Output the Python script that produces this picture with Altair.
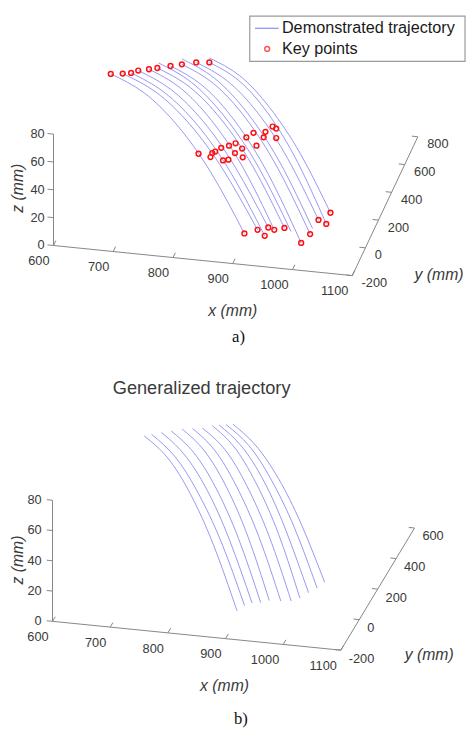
import altair as alt
import pandas as pd

# ---------------- data (mm) ----------------
x_ticks = [600, 700, 800, 900, 1000, 1100]
z_ticks = [0, 20, 40, 60, 80]
y_ticks_a = [-200, 0, 200, 400, 600, 800]
y_ticks_b = [-200, 0, 200, 400, 600]

# y value of the five way-points along every trajectory
traj_y = [400, 300, 180, 60, -50]

# a) demonstrated trajectories
traj_a_x = [
    [630, 697, 766, 835, 903],
    [650, 717, 787, 856, 925],
    [664, 730, 800, 869, 937],
    [676, 741, 809, 876, 943],
    [694, 757, 823, 889, 953],
    [708, 772, 839, 905, 970],
    [710, 776, 845, 914, 981],
    [730, 795, 863, 931, 998],
    [749, 813, 880, 947, 1013],
    [749, 815, 883, 951, 1017],
    [773, 835, 900, 964, 1027],
    [795, 855, 917, 979, 1040],
    [795, 857, 920, 984, 1047],
]
traj_a_z = [
    [64.7, 63.9, 55.3, 36.6, 6.8],
    [65.8, 65.2, 56.9, 39.1, 10.4],
    [66.9, 65.9, 56.8, 37.4, 6.6],
    [69.1, 68.5, 60.2, 42.0, 12.8],
    [70.8, 70.2, 61.4, 42.2, 11.6],
    [72.3, 71.7, 63.0, 44.1, 13.7],
    [76.0, 74.9, 65.0, 44.3, 11.6],
    [74.7, 73.2, 62.2, 39.5, 4.1],
    [76.7, 75.6, 65.6, 44.4, 11.1],
    [80.6, 79.4, 69.4, 48.4, 15.3],
    [79.1, 78.8, 70.4, 51.8, 21.9],
    [80.1, 79.7, 70.8, 51.1, 19.6],
    [83.3, 83.1, 75.0, 57.0, 27.9],
]

# a) key points
key_x = [630, 650, 664, 676, 694, 708, 730, 749, 773, 795,
         801, 821, 824, 829, 839, 842, 851, 852, 863, 862,
         874, 875, 881, 893, 898, 910, 913, 925, 931, 931,
         903, 925, 937, 943, 953, 970, 998, 1013, 1027, 1040, 1047]
key_y = [400, 400, 400, 400, 400, 400, 400, 400, 400, 400,
         180, 180, 180, 180, 180, 180, 180, 180, 180, 180,
         180, 180, 180, 180, 180, 180, 180, 180, 180, 180,
         -50, -50, -50, -50, -50, -50, -50, -50, -50, -50, -50]
key_z = [64.7, 65.8, 66.9, 69.1, 70.8, 72.3, 74.7, 76.7, 79.1, 80.1,
         36.7, 35.2, 38.2, 39.5, 42.6, 33.7, 34.6, 44.7, 46.9, 39.8,
         43.6, 37.3, 51.9, 55.7, 46.7, 53.2, 57.3, 61.6, 60.4, 53.6,
         6.8, 10.4, 6.6, 12.8, 11.6, 13.7, 4.1, 11.1, 21.9, 19.6, 27.9]

# b) generalized trajectories
traj_b_x = [
    [663, 720, 779, 838, 896],
    [676, 732, 791, 851, 909],
    [693, 748, 807, 865, 922],
    [710, 765, 823, 881, 937],
    [729, 783, 840, 897, 952],
    [747, 801, 858, 916, 972],
    [764, 819, 876, 934, 990],
    [781, 835, 892, 950, 1005],
    [793, 848, 906, 963, 1020],
    [805, 861, 919, 978, 1035],
    [817, 872, 931, 990, 1048],
]
traj_b_z = [
    [64.4, 62.0, 52.2, 32.9, 3.1],
    [65.8, 63.6, 54.3, 35.8, 7.1],
    [67.8, 65.7, 56.5, 38.0, 9.3],
    [69.4, 67.3, 58.0, 39.2, 10.1],
    [71.4, 69.4, 60.2, 41.4, 12.0],
    [72.4, 70.4, 60.9, 42.0, 12.4],
    [73.4, 71.4, 61.9, 42.8, 13.1],
    [75.7, 73.7, 64.3, 45.2, 15.7],
    [76.5, 74.6, 65.8, 47.9, 19.8],
    [77.3, 75.4, 67.1, 50.0, 23.3],
    [78.0, 76.3, 68.7, 52.7, 27.7],
]

legend_labels = ["Demonstrated trajectory", "Key points"]
title_b = "Generalized trajectory"
axis_titles = ["x (mm)", "y (mm)", "z (mm)"]
captions = ["a)", "b)"]

# ---------------- layout / projection ----------------
W, H = 466, 727
XS = alt.Scale(domain=[8, 8 + W], nice=False, zero=False)
YS = alt.Scale(domain=[8 + H, 8], nice=False, zero=False)

PROJ = {
    "a": dict(ox=54.3, oy=243.3, ax=0.608, ay=0.0613, bx=0.0667, by=-0.1413, cz=-1.4167,
              ymax=800, yt=y_ticks_a, Lx=35, Lr=10, xdy=16, zdx=-9, ydx=9.5, ydy=7.8),
    "b": dict(ox=53.3, oy=625.7, ax=0.5867, ay=0.0587, bx=0.09375, by=-0.1554, cz=-1.54,
              ymax=600, yt=y_ticks_b, Lx=30, Lr=10, xdy=16, zdx=-11, ydx=8, ydy=8.7),
}
X0, Y0, X1 = 600, -200, 1100

LINE_C = "#6f6fee"
AX_C = "#858585"
TXT_C = "#3a3a3a"
FONT = "Liberation Sans"


def calc(p, suf=""):
    c = PROJ[p]
    return {
        "px" + suf: f"{c['ox']}+{c['ax']}*(datum.x{suf}-{X0})+{c['bx']}*(datum.y{suf}-({Y0}))",
        "py" + suf: f"{c['oy']}+{c['ay']}*(datum.x{suf}-{X0})+({c['by']})*(datum.y{suf}-({Y0}))+({c['cz']})*datum.z{suf}",
    }


def ex():
    return alt.X("px:Q", scale=XS, axis=None)


def ey():
    return alt.Y("py:Q", scale=YS, axis=None)


def panel(p, trx, trz):
    c = PROJ[p]
    ymax = c["ymax"]
    segs = [
        dict(x=X0, y=Y0, z=0, x2=X1, y2=Y0, z2=0),
        dict(x=X1, y=Y0, z=0, x2=X1, y2=ymax, z2=0),
        dict(x=X0, y=Y0, z=0, x2=X0, y2=Y0, z2=z_ticks[-1]),
    ]
    segs += [dict(x=t, y=Y0, z=0, x2=t, y2=Y0 + c["Lx"], z2=0) for t in x_ticks]
    segs += [dict(x=X1, y=t, z=0, x2=X1 - c["Lr"], y2=t, z2=0) for t in c["yt"]]
    segs += [dict(x=X0, y=Y0, z=t, x2=X0 - c["Lr"], y2=Y0, z2=t) for t in z_ticks]
    axes = (alt.Chart(pd.DataFrame(segs)).mark_rule(color=AX_C, strokeWidth=1)
            .transform_calculate(**calc(p)).transform_calculate(**calc(p, "2"))
            .encode(x=ex(), y=ey(), x2="px2:Q", y2="py2:Q"))

    xl = pd.DataFrame([dict(x=t, y=Y0, z=0, t=str(t)) for t in x_ticks])
    yl = pd.DataFrame([dict(x=X1, y=t, z=0, t=str(t)) for t in c["yt"]])
    zl = pd.DataFrame([dict(x=X0, y=Y0, z=t, t=str(t)) for t in z_ticks])
    tk = dict(fontSize=13, font=FONT, color=TXT_C, baseline="middle")
    xlab = (alt.Chart(xl).mark_text(align="right", dx=-4, dy=c["xdy"], **tk)
            .transform_calculate(**calc(p)).encode(x=ex(), y=ey(), text="t:N"))
    ylab = (alt.Chart(yl).mark_text(align="left", dx=c["ydx"], dy=c["ydy"], **tk)
            .transform_calculate(**calc(p)).encode(x=ex(), y=ey(), text="t:N"))
    zlab = (alt.Chart(zl).mark_text(align="right", dx=c["zdx"], **tk)
            .transform_calculate(**calc(p)).encode(x=ex(), y=ey(), text="t:N"))

    rows = []
    for i, (xs, zs) in enumerate(zip(trx, trz)):
        for s, (xv, yv, zv) in enumerate(zip(xs, traj_y, zs)):
            rows.append(dict(traj=i, step=s, x=xv, y=yv, z=zv))
    lines = (alt.Chart(pd.DataFrame(rows))
             .mark_line(color=LINE_C, strokeWidth=0.9, opacity=0.8, interpolate="natural")
             .transform_calculate(**calc(p))
             .encode(x=ex(), y=ey(), detail="traj:N", order="step:Q"))
    return [axes, lines, xlab, ylab, zlab]


layers = []
layers += panel("a", traj_a_x, traj_a_z)
layers += panel("b", traj_b_x, traj_b_z)

keys = pd.DataFrame(dict(x=key_x, y=key_y, z=key_z))
layers.append(
    alt.Chart(keys).mark_point(shape="circle", filled=False, color="#ff1010", size=24,
                               strokeWidth=1.5, opacity=1)
    .transform_calculate(**calc("a")).encode(x=ex(), y=ey())
)


def txt(s, x, y, **kw):
    return alt.Chart(pd.DataFrame({"t": [s]})).mark_text(**kw).encode(
        x=alt.value(x - 8), y=alt.value(y - 8), text="t:N")


ital = dict(fontSize=16, font=FONT, fontStyle="italic", color=TXT_C, baseline="middle")
# axis titles panel a
layers.append(txt(axis_titles[0], 236.7, 310, align="center", **ital))
layers.append(txt(axis_titles[1], 421.7, 273.5, align="left", **ital))
layers.append(txt(axis_titles[2], 18.3, 185, align="center", angle=270, **ital))
# axis titles panel b
layers.append(txt(axis_titles[0], 228.3, 691.7, align="center", **ital))
layers.append(txt(axis_titles[1], 411.7, 660, align="left", **ital))
layers.append(txt(axis_titles[2], 18.3, 563.3, align="center", angle=270, **ital))
# captions and title
cap = dict(fontSize=17, font="Liberation Serif", color="#111111", baseline="middle", align="center")
layers.append(txt(captions[0], 242.5, 336.5, **cap))
layers.append(txt(captions[1], 245, 725, **cap))
layers.append(txt(title_b, 205, 388.5, align="center", baseline="middle", fontSize=18.5,
                  font=FONT, color=TXT_C))

# legend box
layers.append(alt.Chart(pd.DataFrame({"k": [0]})).mark_rect(
    fill="white", stroke="#9a9a9a", strokeWidth=1.2).encode(
    x=alt.value(254 - 8), x2=alt.value(473 - 8), y=alt.value(10 - 8), y2=alt.value(56 - 8)))
layers.append(alt.Chart(pd.DataFrame({"k": [0]})).mark_rule(
    color=LINE_C, strokeWidth=1.2, opacity=0.8).encode(
    x=alt.value(259.3 - 8), x2=alt.value(283.3 - 8), y=alt.value(22.3 - 8)))
layers.append(alt.Chart(pd.DataFrame({"k": [0]})).mark_point(
    shape="circle", filled=False, color="#ff1010", size=24, strokeWidth=1.5).encode(
    x=alt.value(271.7 - 8), y=alt.value(43.3 - 8)))
leg = dict(fontSize=16.5, font=FONT, color="#1a1a1a", baseline="middle", align="left")
layers.append(txt(legend_labels[0], 286.7, 22.3, **leg))
layers.append(txt(legend_labels[1], 286.7, 43.3, **leg))

chart = alt.layer(*layers).properties(
    width=W, height=H, padding=0,
    autosize=alt.AutoSizeParams(type="none"),
).configure_view(stroke=None)

chart.save("out.html", embed_options={"renderer": "svg", "actions": False})
